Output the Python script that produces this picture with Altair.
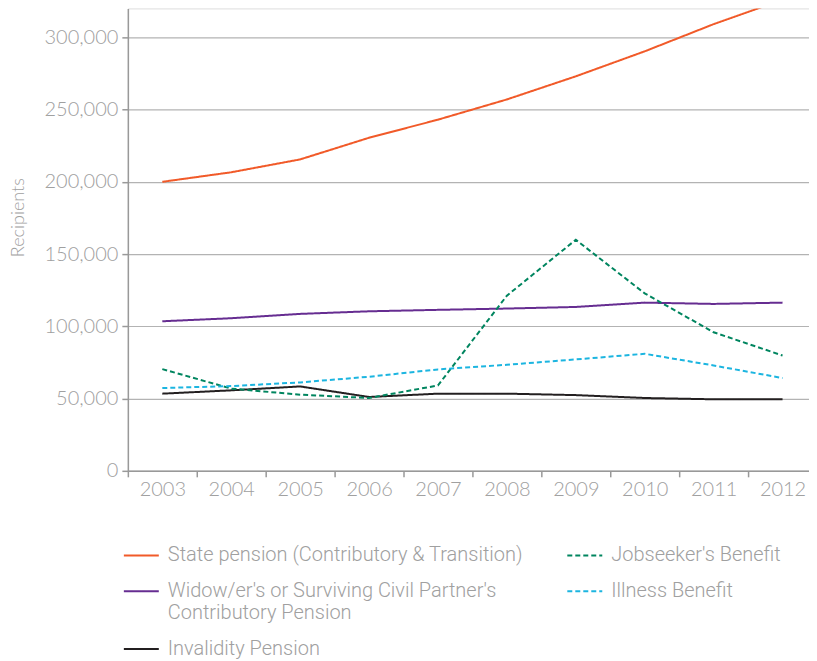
import altair as alt
import pandas as pd

years = ["2003", "2004", "2005", "2006", "2007", "2008", "2009", "2010", "2011", "2012"]

state_pension = [200000, 206600, 215500, 230500, 243000, 257000, 273000, 290300, 309100, 326000]
widow_pension = [103500, 105600, 108600, 110400, 111400, 112300, 113400, 116400, 115500, 116400]
jobseekers = [70400, 56900, 52700, 50400, 59100, 121200, 159900, 122800, 95900, 79800]
illness = [57300, 58650, 61200, 65100, 70200, 73400, 77100, 81000, 72900, 64200]
invalidity = [53400, 55700, 58400, 51100, 53400, 53400, 52400, 50400, 49500, 49500]

series_names = [
    "State pension (Contributory & Transition)",
    "Widow/er's or Surviving Civil Partner's|Contributory Pension",
    "Invalidity Pension",
    "Jobseeker's Benefit",
    "Illness Benefit",
]
series_values = [state_pension, widow_pension, invalidity, jobseekers, illness]
colors = ["#f15a29", "#662d91", "#231f20", "#00855f", "#1cb5e0"]
dashes = [[1, 0], [1, 0], [1, 0], [5, 3], [5, 3]]

rows = []
for name, vals in zip(series_names, series_values):
    for y, v in zip(years, vals):
        rows.append({"year": y, "value": v, "series": name})
df = pd.DataFrame(rows)

grey = "#a0a0a0"
font = "Lato"

legend_cfg = alt.Legend(
    title=None,
    orient="none",
    legendX=-5,
    legendY=529,
    columns=2,
    columnPadding=40,
    rowPadding=7,
    symbolType="stroke",
    symbolSize=1225,
    symbolStrokeWidth=2,
    labelFontSize=20,
    labelFont="Roboto",
    labelFontWeight=300,
    labelColor=grey,
    labelLimit=500,
    labelOffset=8,
    labelExpr="split(datum.label, '|')",
    padding=0,
)

chart = (
    alt.Chart(df)
    .mark_line(strokeWidth=2, clip=True)
    .encode(
        x=alt.X(
            "year:N",
            sort=years,
            scale=alt.Scale(type="band", paddingInner=0, paddingOuter=0),
            axis=alt.Axis(
                title=None,
                tickBand="extent",
                labelAngle=0,
                labelFontSize=20,
                labelFont=font,
                labelFontWeight=300,
                labelColor=grey,
                labelPadding=3,
                domainColor="#999999",
                domainWidth=1.5,
                tickColor="#999999",
                tickWidth=1.5,
                tickSize=6,
                grid=False,
            ),
        ),
        y=alt.Y(
            "value:Q",
            scale=alt.Scale(domain=[0, 320000], nice=False, zero=True),
            axis=alt.Axis(
                title="Recipients",
                values=[0, 50000, 100000, 150000, 200000, 250000, 300000],
                format=",.0f",
                labelFontSize=20,
                labelFont=font,
                labelFontWeight=300,
                labelColor=grey,
                labelPadding=4,
                domainColor="#999999",
                domainWidth=1.5,
                tickColor="#999999",
                tickWidth=1.5,
                tickSize=6,
                gridColor="#b3b3b3",
                gridWidth=1.2,
                titleFontSize=18,
                titleFont=font,
                titleFontWeight=300,
                titleColor=grey,
                titleX=-109,
                titleY=209,
                titleAlign="center",
                titleBaseline="middle",
                titleAngle=-90,
            ),
        ),
        color=alt.Color(
            "series:N",
            sort=series_names,
            scale=alt.Scale(domain=series_names, range=colors),
            legend=legend_cfg,
        ),
        strokeDash=alt.StrokeDash(
            "series:N",
            sort=series_names,
            scale=alt.Scale(domain=series_names, range=dashes),
            legend=legend_cfg,
        ),
    )
    .properties(
        width=690,
        height=463,
        padding={"left": 2, "top": 0, "right": -9, "bottom": 0},
    )
    .configure_view(stroke=None)
    .configure(font=font)
)

chart.save("out.html", embed_options={"renderer": "svg", "actions": False})
